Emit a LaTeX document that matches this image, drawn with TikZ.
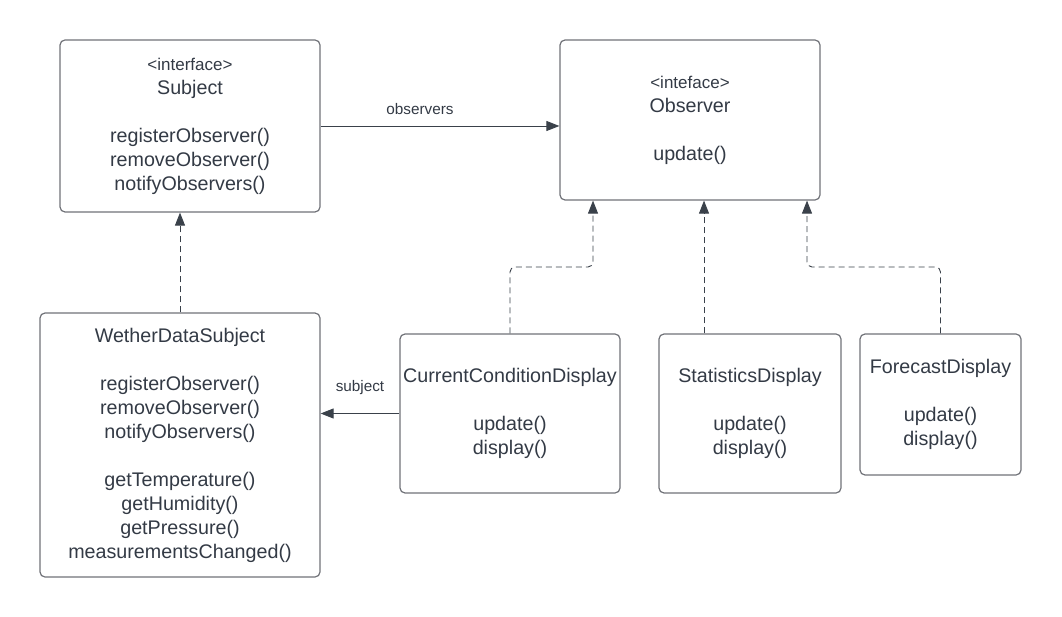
\documentclass[tikz,border=0pt]{standalone}
\usepackage{fontspec}
\setmainfont{Liberation Sans}
\usetikzlibrary{arrows.meta,calc}
\definecolor{txt}{RGB}{51,58,69}
\definecolor{edge}{RGB}{112,114,120}
\definecolor{arrc}{RGB}{58,65,74}
\tikzset{
  cls/.style={draw=edge,line width=1.2pt,rounded corners=5pt,inner sep=0pt,align=center,text=txt,
    font=\fontsize{19.7}{24}\selectfont},
  arr/.style={draw=arrc,line width=0.9pt,-{Triangle[length=13pt,width=10pt]}},
  dep/.style={arr,dash pattern=on 6pt off 4pt,rounded corners=5pt},
  lbl/.style={text=txt,font=\fontsize{15.3}{18}\selectfont,inner sep=0pt}
}
\newcommand{\stereo}[1]{{\fontsize{17}{24}\selectfont #1}}
\begin{document}
\begin{tikzpicture}[x=1pt,y=-1pt]
\useasboundingbox (0,0) rectangle (1062,617);
\node[cls,minimum width=260pt,minimum height=172pt] (subj) at (190,126)
  {\stereo{<interface>}\\Subject\\[24pt]registerObserver()\\removeObserver()\\notifyObservers()};
\node[cls,minimum width=260pt,minimum height=160pt] (obs) at (690,120)
  {\stereo{<inteface>}\\Observer\\[24pt]update()};
\node[cls,minimum width=280pt,minimum height=264pt] (wds) at (180,445)
  {WetherDataSubject\\[24pt]registerObserver()\\removeObserver()\\notifyObservers()\\[24pt]getTemperature()\\getHumidity()\\getPressure()\\measurementsChanged()};
\node[cls,minimum width=220pt,minimum height=159pt] (ccd) at (510,413.5)
  {CurrentConditionDisplay\\[24pt]update()\\display()};
\node[cls,minimum width=182pt,minimum height=159pt] (sd) at (750,413.5)
  {StatisticsDisplay\\[24pt]update()\\display()};
\node[cls,minimum width=161pt,minimum height=141pt] (fd) at (940.5,404.5)
  {ForecastDisplay\\[24pt]update()\\display()};

\node[lbl] (lobs) at (420,109) {observers};
\node[lbl] (lsub) at (360,388) {subject};

\coordinate (oa) at ([xshift=-97pt]obs.south);
\coordinate (ob) at ([xshift=14pt]obs.south);
\coordinate (oc) at ([xshift=117pt]obs.south);

\draw[arr] (subj.east |- 0,126) -- (obs.west |- 0,126);
\draw[arr] (ccd.west) -- (ccd.west -| wds.east);
\draw[dep] (wds.north) -- (wds.north |- subj.south);
\draw[dep] (ccd.north) -- (510,267) -- (593,267) -- (oa);
\draw[dep] (ob |- sd.north) -- (ob);
\draw[dep] (fd.north) -- (940.5,267) -- (807,267) -- (oc);
\end{tikzpicture}
\end{document}
